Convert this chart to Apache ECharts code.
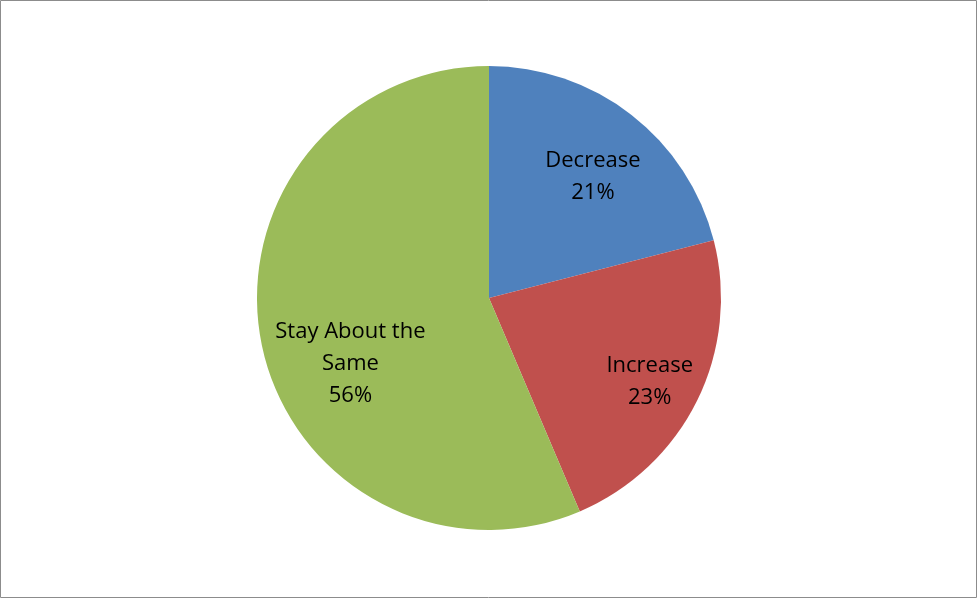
<!DOCTYPE html>
<html><head><meta charset="utf-8">
<script src="https://cdn.jsdelivr.net/npm/echarts@6/dist/echarts.min.js"></script>
<style>html,body{margin:0;padding:0;background:#fff}#c{width:977px;height:598px}</style>
</head><body><div id="c"></div>
<script>
const categories = ['Decrease', 'Increase', 'Stay About the Same'];
const values = [21.0, 22.6, 56.4];
const colors = ['#4F81BD', '#C0504D', '#9BBB59'];
const labelOffsets = [[31, -27], [54, 31], [-22, 42]];
const labelTexts = ['Decrease\n{d}%', 'Increase\n{d}%', 'Stay About the\nSame\n{d}%'];

const chart = echarts.init(document.getElementById('c'));
chart.setOption({
  animation: false,
  graphic: [{
    type: 'rect', shape: {x: 0.5, y: 0.5, width: 976, height: 597},
    style: {fill: 'none', stroke: '#8c8c8c', lineWidth: 1}, silent: true
  }],
  series: [{
    type: 'pie',
    center: [489, 298],
    radius: 232,
    startAngle: 90,
    clockwise: true,
    avoidLabelOverlap: false,
    labelLine: {show: false},
    data: categories.map((n, i) => ({
      name: n, value: values[i],
      itemStyle: {color: colors[i]},
      label: {
        show: true, position: 'inside', offset: labelOffsets[i],
        formatter: labelTexts[i].replace('{d}', Math.round(values[i])),
        color: '#000', fontFamily: 'Open Sans', fontSize: 22, lineHeight: 32, align: 'center'
      }
    }))
  }]
});
</script></body></html>
